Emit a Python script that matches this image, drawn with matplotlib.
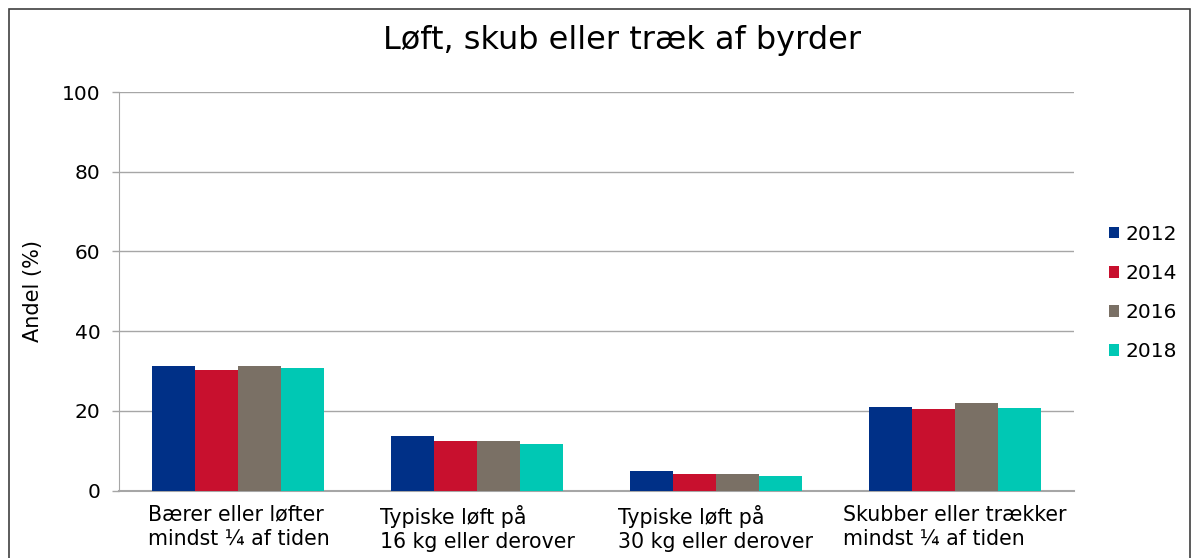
import matplotlib
matplotlib.use("Agg")
import matplotlib.pyplot as plt
from matplotlib.patches import Rectangle
import numpy as np

categories = ["Bærer eller løfter\nmindst ¼ af tiden",
              "Typiske løft på\n16 kg eller derover",
              "Typiske løft på\n30 kg eller derover",
              "Skubber eller trækker\nmindst ¼ af tiden"]
years = ["2012", "2014", "2016", "2018"]
v2012 = [31.2, 13.8, 5.0, 20.9]
v2014 = [30.3, 12.4, 4.1, 20.6]
v2016 = [31.3, 12.4, 4.1, 21.9]
v2018 = [30.9, 11.6, 3.8, 20.8]
series = [v2012, v2014, v2016, v2018]
colors = ["#003087", "#C8102E", "#7A7065", "#00C8B4"]
yticks = [0, 20, 40, 60, 80, 100]

plt.rcParams['font.family'] = ['DejaVu Sans']
fig = plt.figure(figsize=(11.95, 5.58), dpi=100)
ax = fig.add_axes([119/1195, 1-490.7/558, (1074-119)/1195, (490.7-92)/558])

x = np.arange(len(categories))
w = 0.18
for i, (vals, c, yr) in enumerate(zip(series, colors, years)):
    ax.bar(x + (i - 1.5) * w, vals, width=w, color=c, label=yr, zorder=3)

ax.set_xlim(-0.5, len(categories) - 0.5)
ax.set_ylim(0, 100)
ax.set_yticks(yticks)
ax.set_yticklabels([str(t) for t in yticks], fontsize=14.5)
ax.set_xticks(x)
ax.set_xticklabels(categories, fontsize=14.8, multialignment='left', linespacing=1.25)
ax.tick_params(axis='x', length=0, pad=10)
ax.tick_params(axis='y', length=5, color='#A6A6A6', width=1, pad=8.5)
ax.grid(axis='y', color='#A6A6A6', linewidth=1, zorder=0)
for s in ['top', 'right']:
    ax.spines[s].set_visible(False)
ax.spines['left'].set_color('#A6A6A6')
ax.spines['bottom'].set_color('#A6A6A6')
ax.spines['bottom'].set_linewidth(1.5)
ax.set_ylabel("Andel (%)", fontsize=15)
ax.yaxis.set_label_coords((43 - 119) / 955, 0.5)

fig.text(622/1195, 1-40/558, "Løft, skub eller træk af byrder", fontsize=23,
         ha='center', va='center')

leg = ax.legend(loc='center left', bbox_to_anchor=(1109/1195, 1-293/558),
                bbox_transform=fig.transFigure, frameon=False, fontsize=14.5,
                handlelength=0.5, handleheight=0.5, handletextpad=0.3,
                labelspacing=1.0, borderaxespad=0, borderpad=0)

fig.patches.append(Rectangle((9/1195, -0.05), (1190-9)/1195, 1.05 - 9/558,
                             transform=fig.transFigure, fill=False,
                             edgecolor='#404040', linewidth=1.2))

fig.savefig("out.png", dpi=100)
